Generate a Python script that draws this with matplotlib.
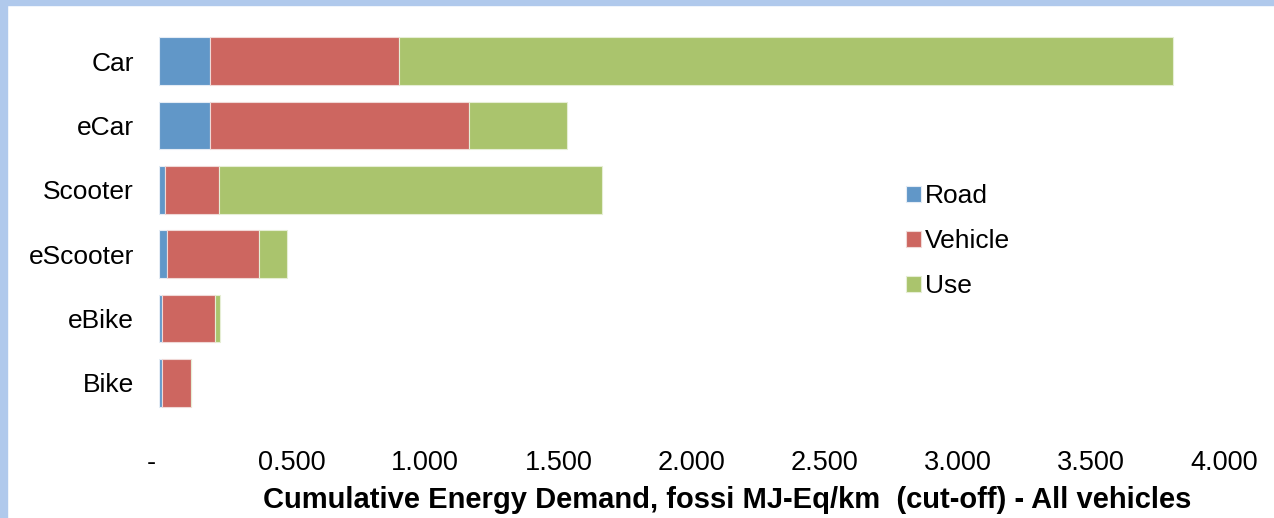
import matplotlib
matplotlib.use("Agg")
import matplotlib.pyplot as plt
import matplotlib.transforms as mtransforms
from matplotlib.patches import Rectangle

plt.rcParams["font.family"] = ["Liberation Sans", "DejaVu Sans"]

categories = ["Car", "eCar", "Scooter", "eScooter", "eBike", "Bike"]
road = [0.190, 0.190, 0.023, 0.030, 0.011, 0.011]
vehicle = [0.710, 0.974, 0.202, 0.346, 0.199, 0.109]
use = [2.910, 0.368, 1.439, 0.104, 0.019, 0.000]
xticks = [0.0, 0.5, 1.0, 1.5, 2.0, 2.5, 3.0, 3.5, 4.0]
xtick_labels = ["-", "0.500", "1.000", "1.500", "2.000", "2.500", "3.000", "3.500", "4.000"]

colors = {"Road": "#6197c8", "Vehicle": "#cd6660", "Use": "#aac46d"}

W, H = 1274, 518
fig = plt.figure(figsize=(W / 100, H / 100), dpi=100)

# light blue frame along the top and left edges
fig.patches.append(Rectangle((0, 1 - 5 / H), 1, 5 / H, transform=fig.transFigure,
                             color="#b0c9ec", zorder=0))
fig.patches.append(Rectangle((0, 0), 7 / W, 1, transform=fig.transFigure,
                             color="#b0c9ec", zorder=0))

left, right = 159 / W, 1224 / W
top, bottom = 1 - 29 / H, 1 - 415 / H
ax = fig.add_axes([left, bottom, right - left, top - bottom])

y = list(range(len(categories)))
h = 0.745
left_v = [r for r in road]
left_u = [r + v for r, v in zip(road, vehicle)]
ax.barh(y, road, height=h, color=colors["Road"], edgecolor="#e4ecf5", linewidth=0.8, label="Road")
ax.barh(y, vehicle, left=left_v, height=h, color=colors["Vehicle"], edgecolor="#f0d8d6", linewidth=0.8, label="Vehicle")
ax.barh(y, use, left=left_u, height=h, color=colors["Use"], edgecolor="#e6eed5", linewidth=0.8, label="Use")

ax.set_xlim(0, 4.0)
ax.set_ylim(len(categories) - 0.5, -0.5)
ax.set_yticks(y)
ax.set_yticklabels(categories, fontsize=19)
ax.set_xticks(xticks)
ax.set_xticklabels(xtick_labels, fontsize=19.5)
ax.tick_params(axis="both", length=0)
ax.tick_params(axis="y", pad=18)
ax.tick_params(axis="x", pad=25)
for s in ax.spines.values():
    s.set_visible(False)

# zero label sits a little left of the axis origin
zero_lbl = ax.get_xticklabels()[0]
zero_lbl.set_transform(zero_lbl.get_transform() +
                       mtransforms.ScaledTranslation(-8 / 100, 0, fig.dpi_scale_trans))

fig.text(727 / W, 1 - 500 / H, "Cumulative Energy Demand, fossi MJ-Eq/km  (cut-off) - All vehicles",
         ha="center", va="center", fontsize=21, fontweight="bold")

ax.legend(loc="upper left", bbox_to_anchor=(906 / W, 1 - 184 / H), bbox_transform=fig.transFigure,
          frameon=False, fontsize=19, handlelength=0.55, handleheight=0.55, handletextpad=0.18,
          labelspacing=0.80, borderpad=0, borderaxespad=0)

fig.savefig("out.png", dpi=100)
